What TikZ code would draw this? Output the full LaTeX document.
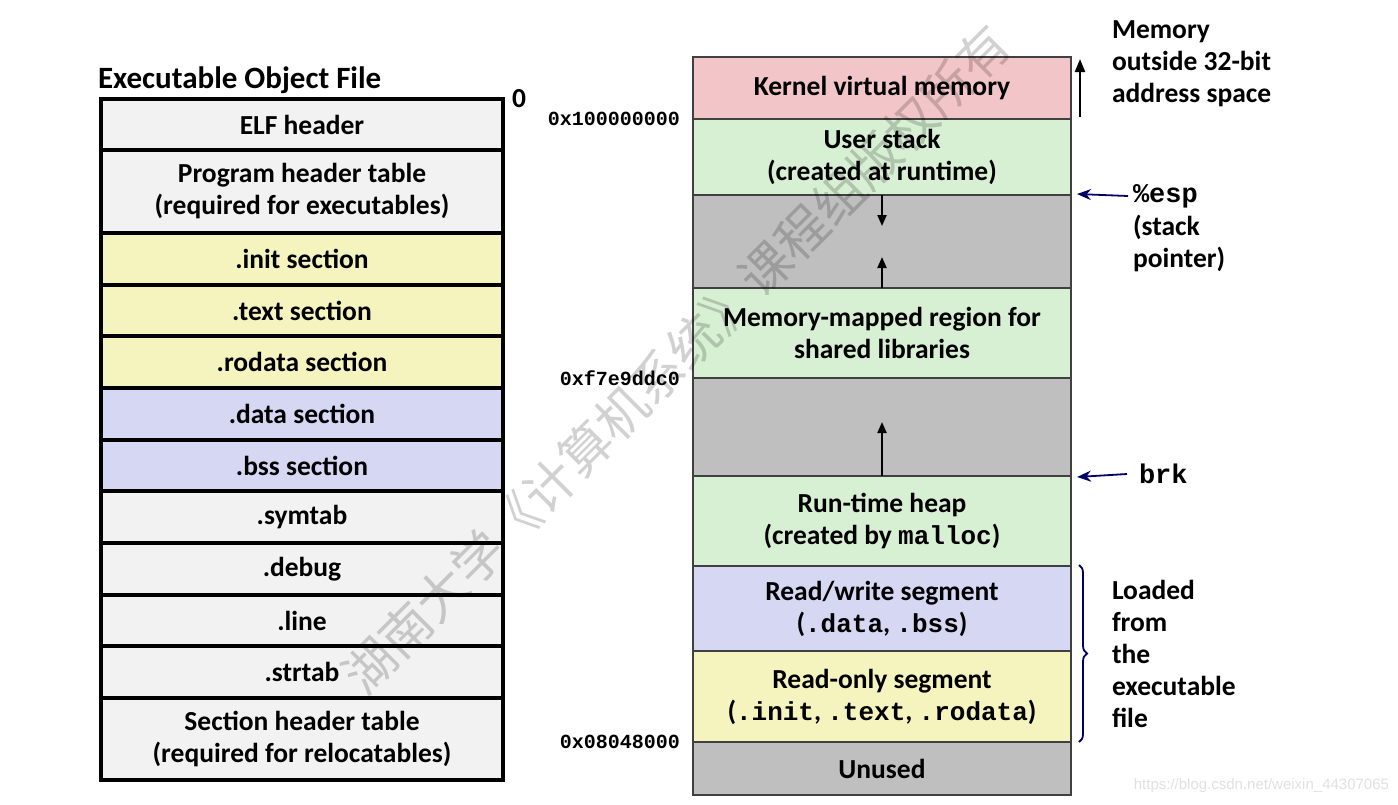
\documentclass[tikz,border=0pt]{standalone}
\usepackage{fontspec}
\setmainfont{Carlito}
\setmonofont{Liberation Mono}
\newfontfamily\cjkfont{Noto Sans CJK SC}
\newfontfamily\urlfont{Liberation Sans}
\usetikzlibrary{arrows.meta, positioning, decorations.pathreplacing}

\definecolor{rowgray}{HTML}{F2F2F2}
\definecolor{rowyellow}{HTML}{F5F4BE}
\definecolor{rowblue}{HTML}{D5D7F3}
\definecolor{rowpink}{HTML}{F2C6C8}
\definecolor{rowgreen}{HTML}{D7EFD2}
\definecolor{rowdark}{HTML}{BFBFBF}
\definecolor{ptrblue}{HTML}{000066}

\newcommand{\code}[1]{{\fontsize{26}{32}\selectfont\ttfamily\bfseries #1}}

\begin{document}
\begin{tikzpicture}[x=1pt, y=-1pt,
    every node/.style={inner sep=0pt, outer sep=0pt, font=\fontsize{27.5}{32}\selectfont\bfseries},
    filerow/.style={draw=black, line width=3.5pt, minimum width=402pt, align=center},
    memrow/.style={draw=black!75, line width=1.2pt, minimum width=378pt, align=center},
    addr/.style={anchor=east, font=\fontsize{20}{24}\selectfont\ttfamily\bfseries},
    note/.style={anchor=west, align=left},
    growarrow/.style={-{Triangle[length=11pt, width=9pt]}, line width=2.2pt},
    ptr/.style={-{Stealth[length=14pt, width=11pt]}, line width=1.8pt, draw=ptrblue}]
  \useasboundingbox (0,0) rectangle (1398,804);

  % executable object file
  \node[anchor=base west, font=\fontsize{31}{36}\selectfont\bfseries] (title) at (98,88) {Executable Object File};
  \node[filerow, fill=rowgray, minimum height=51pt, anchor=north] (elf) at (302,99) {ELF header};
  \node[filerow, fill=rowgray, minimum height=83pt, below=0pt of elf] (pht) {Program header table\\(required for executables)};
  \node[filerow, fill=rowyellow, minimum height=52pt, below=0pt of pht] (init) {.init section};
  \node[filerow, fill=rowyellow, minimum height=51pt, below=0pt of init] (text) {.text section};
  \node[filerow, fill=rowyellow, minimum height=52pt, below=0pt of text] (rodata) {.rodata section};
  \node[filerow, fill=rowblue, minimum height=52pt, below=0pt of rodata] (data) {.data section};
  \node[filerow, fill=rowblue, minimum height=51pt, below=0pt of data] (bss) {.bss section};
  \node[filerow, fill=rowgray, minimum height=52pt, below=0pt of bss] (symtab) {.symtab};
  \node[filerow, fill=rowgray, minimum height=52pt, below=0pt of symtab] (debug) {.debug};
  \node[filerow, fill=rowgray, minimum height=51pt, below=0pt of debug] (line) {.line};
  \node[filerow, fill=rowgray, minimum height=52pt, below=0pt of line] (strtab) {.strtab};
  \node[filerow, fill=rowgray, minimum height=82pt, below=0pt of strtab] (sht) {Section header table\\(required for relocatables)};
  \node[anchor=center] (zero) at ([xshift=16pt]elf.north east) {0};

  % process memory image
  \node[memrow, fill=rowpink, minimum height=62pt, anchor=north] (kernel) at (882,57) {Kernel virtual memory};
  \node[memrow, fill=rowgreen, minimum height=76pt, below=0pt of kernel] (ustack) {User stack\\(created at runtime)};
  \node[memrow, fill=rowdark, minimum height=93pt, below=0pt of ustack] (gapa) {};
  \node[memrow, fill=rowgreen, minimum height=90pt, below=0pt of gapa] (mmap) {Memory-mapped region for\\shared libraries};
  \node[memrow, fill=rowdark, minimum height=98pt, below=0pt of mmap] (gapb) {};
  \node[memrow, fill=rowgreen, minimum height=90pt, below=0pt of gapb] (heap) {Run-time heap\\(created by \code{malloc})};
  \node[memrow, fill=rowblue, minimum height=85pt, below=0pt of heap] (rwseg) {Read/write segment\\(\code{.data}, \code{.bss})};
  \node[memrow, fill=rowyellow, minimum height=91pt, below=0pt of rwseg] (roseg) {Read-only segment\\(\code{.init}, \code{.text}, \code{.rodata})};
  \node[memrow, fill=rowdark, minimum height=53pt, below=0pt of roseg] (unused) {Unused};

  \draw[growarrow] (gapa.north) -- +(0,31);
  \draw[growarrow] (gapa.south) -- +(0,-31);
  \draw[growarrow] (gapb.south) -- +(0,-54);

  \node[addr] (topaddr) at ([xshift=-13pt]kernel.south west) {0x100000000};
  \node[addr] (mmaddr) at ([xshift=-13pt]mmap.south west) {0xf7e9ddc0};
  \node[addr] (startaddr) at ([xshift=-13pt]roseg.south west) {0x08048000};

  % notes on the right
  \draw[growarrow, -{Triangle[length=13pt, width=10pt]}] ([xshift=9pt, yshift=2pt]kernel.south east) -- ([xshift=9pt, yshift=-2pt]kernel.north east);
  \node[note] (outside) at (1112,64) {Memory\\outside 32-bit\\address space};

  \node[anchor=west, font=\fontsize{27}{32}\selectfont\ttfamily\bfseries] (esp) at (1133,196) {\%esp};
  \node[note] (esptext) at (1133,243) {(stack\\pointer)};
  \coordinate (esptip) at ([xshift=6pt, yshift=1pt]ustack.south east);
  \draw[ptr] ([xshift=-5pt]esp.west) -- (esptip);

  \node[anchor=west, font=\fontsize{27}{32}\selectfont\ttfamily\bfseries] (brk) at (1139,474) {brk};
  \coordinate (brktip) at ([xshift=6pt, yshift=-1pt]heap.north east);
  \draw[ptr] ([xshift=-12pt]brk.west) -- (brktip);

  \draw[draw=ptrblue, line width=1.8pt, decorate, decoration={brace, amplitude=8pt}]
    ([xshift=8pt, yshift=1pt]rwseg.north east) -- ([xshift=8pt]roseg.south east);
  \node[note] (loaded) at (1112,654) {Loaded\\from\\the\\executable\\file};

  % watermarks
  \node[rotate=45, text=black, opacity=0.18, font=\fontsize{51}{60}\selectfont\cjkfont] (mark) at (676,359) {湖南大学《计算机系统》课程组版权所有};
  \node[anchor=east, text=black!12, font=\fontsize{15}{18}\selectfont\urlfont] (url) at (1389,786) {https://blog.csdn.net/weixin\_44307065};
\end{tikzpicture}
\end{document}
